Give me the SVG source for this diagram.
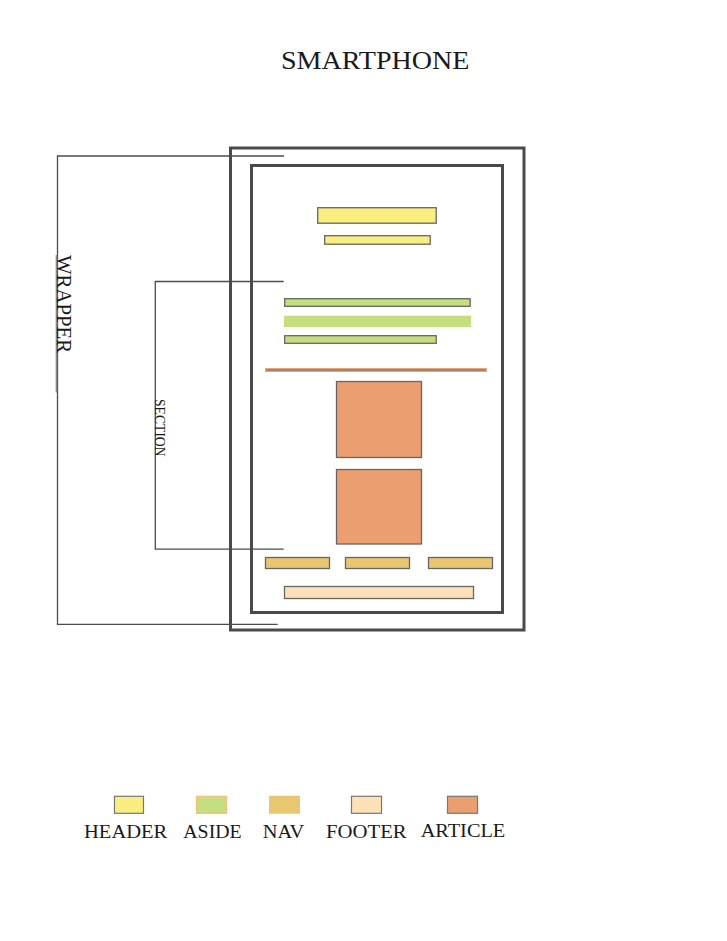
<svg xmlns="http://www.w3.org/2000/svg" width="727" height="941" viewBox="0 0 727 941">
  <style>
    .frame { fill: none; stroke: #4a4a4a; stroke-width: 3; }
    .box { stroke: #666666; stroke-width: 1.3; }
    .header { fill: #fbee80; }
    .aside { fill: #c5df7e; }
    .nav { fill: #e9c670; }
    .footer { fill: #fee1b9; }
    .article { fill: #eb9e6f; }
    .bracket { fill: none; stroke: #4d4d4d; stroke-width: 1.3; }
    .serif { font-family: "Liberation Serif", "DejaVu Serif", serif; fill: #1a1a1a; }
  </style>

  <rect width="727" height="941" fill="#ffffff"/>

  <!-- title -->
  <text class="serif" x="281" y="68.5" font-size="25" textLength="188.5" lengthAdjust="spacingAndGlyphs">SMARTPHONE</text>

  <!-- phone frame (wrapper) and section frame -->
  <g id="wrapper">
    <rect class="frame" x="230.5" y="148" width="293.5" height="482"/>
  </g>
  <g id="section">
    <rect class="frame" x="251.5" y="165.5" width="251" height="447"/>
  </g>

  <!-- header blocks -->
  <g id="header">
    <rect class="box header" x="317.7" y="207.7" width="118.5" height="15.5"/>
    <rect class="box header" x="324.7" y="235.7" width="105.5" height="8.5"/>
  </g>

  <!-- aside blocks -->
  <g id="aside">
    <rect class="box aside" x="284.7" y="298.7" width="185.5" height="7.6"/>
    <rect class="aside" x="284" y="315.7" width="187" height="11.3"/>
    <rect class="box aside" x="284.7" y="335.7" width="151.5" height="7.6"/>
  </g>

  <!-- divider -->
  <g id="divider">
    <rect x="265.7" y="368.7" width="220.6" height="2.6" fill="#7a7a7a" stroke="#eb9e6f" stroke-width="1.3"/>
  </g>

  <!-- articles -->
  <g id="article-1">
    <rect class="box article" x="336.5" y="381.5" width="85" height="76"/>
  </g>
  <g id="article-2">
    <rect class="box article" x="336.5" y="469.5" width="85" height="74.5"/>
  </g>

  <!-- nav -->
  <g id="nav">
    <rect class="box nav" x="265.5" y="557.5" width="64" height="11"/>
    <rect class="box nav" x="345.5" y="557.5" width="64" height="11"/>
    <rect class="box nav" x="428.5" y="557.5" width="64" height="11"/>
  </g>

  <!-- footer -->
  <g id="footer">
    <rect class="box footer" x="284.5" y="586.5" width="189" height="12"/>
  </g>

  <!-- brackets -->
  <g id="connectors">
    <polyline class="bracket" points="284,156 57.5,156 57.5,624.3 277.7,624.3"/>
    <line x1="56.5" y1="255" x2="56.5" y2="392.5" stroke="#8a8a8a" stroke-width="1.6"/>
    <polyline class="bracket" points="283.7,281.5 155.3,281.5 155.3,549.2 283.7,549.2"/>
  </g>

  <!-- bracket labels -->
  <g id="label-wrapper">
    <text class="serif" font-size="21" transform="translate(57,255) rotate(90)" textLength="98" lengthAdjust="spacingAndGlyphs">WRAPPER</text>
  </g>
  <g id="label-section">
    <text class="serif" font-size="14" transform="translate(155,399) rotate(90)" textLength="57.5" lengthAdjust="spacingAndGlyphs">SECTION</text>
  </g>

  <!-- legend -->
  <g id="legend">
    <rect class="header" x="114.5" y="796.3" width="29" height="17" stroke="#777777" stroke-width="1.2"/>
    <rect class="aside" x="196.5" y="796.3" width="30" height="17" stroke="#f3c07c" stroke-width="1.2"/>
    <rect class="nav" x="269" y="795.7" width="31" height="18"/>
    <rect class="footer" x="351.5" y="796.3" width="30" height="17" stroke="#777777" stroke-width="1.2"/>
    <rect class="article" x="447.5" y="796.3" width="30" height="17" stroke="#777777" stroke-width="1.2"/>

    <text class="serif" x="84" y="837.8" font-size="19.5" textLength="83.3" lengthAdjust="spacingAndGlyphs">HEADER</text>
    <text class="serif" x="183.3" y="837.8" font-size="19.5" textLength="58.4" lengthAdjust="spacingAndGlyphs">ASIDE</text>
    <text class="serif" x="262.7" y="837.8" font-size="19.5" textLength="41.6" lengthAdjust="spacingAndGlyphs">NAV</text>
    <text class="serif" x="326" y="837.8" font-size="19.5" textLength="80.7" lengthAdjust="spacingAndGlyphs">FOOTER</text>
    <text class="serif" x="420.7" y="836.8" font-size="19.5" textLength="84.6" lengthAdjust="spacingAndGlyphs">ARTICLE</text>
  </g>
</svg>
